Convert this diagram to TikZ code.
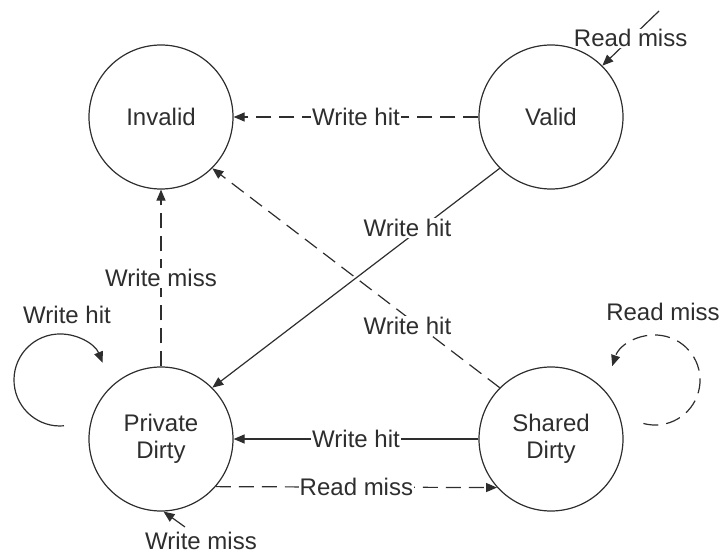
\documentclass[tikz,border=0pt]{standalone}
\usepackage{fontspec}
\setmainfont{Liberation Sans}
\usetikzlibrary{arrows.meta}
\definecolor{ink}{HTML}{2E2E2E}
\begin{document}
\begin{tikzpicture}[x=1pt,y=1pt,
  labelfont/.style={text=ink,font=\fontsize{24}{27}\selectfont},
  state/.style={circle,draw=ink,line width=1.2pt,minimum size=144pt,inner sep=0pt,align=center,labelfont},
  lbl/.style={fill=white,inner sep=1pt,labelfont},
  txt/.style={inner sep=1pt,labelfont},
  conn/.style={draw=ink,line width=1.2pt,-{Triangle[length=11pt,width=9pt]}},
  dashconn/.style={conn,dash pattern=on 15pt off 8pt}]
  \useasboundingbox (0,0) rectangle (722,-556);

  % states
  \node[state] (inv) at (161,-117) {Invalid};
  \node[state] (val) at (551,-117) {Valid};
  \node[state] (pd)  at (161,-439) {Private\\Dirty};
  \node[state] (sd)  at (551,-439) {Shared\\Dirty};

  % transitions between states
  \draw[dashconn] (val) -- node[lbl] {Write hit} (inv);
  \draw[conn] (val.225) -- node[lbl,pos=0.3,xshift=-6pt,yshift=6pt] {Write hit} (pd.45);
  \draw[dashconn] (sd.135) -- node[lbl,pos=0.3,xshift=-6pt,yshift=-4pt] {Write hit} (inv.-45);
  \draw[dashconn] (pd) -- node[lbl] {Write miss} (inv);
  \draw[conn] (sd) -- node[lbl] {Write hit} (pd);
  \draw[dashconn] (pd.-41.8) -- node[lbl] {Read miss} (sd.-138.2);

  % external entries
  \coordinate (rmsrc) at (659,-11);
  \draw[conn] (rmsrc) -- node[lbl] {Read miss} (val.45);
  \coordinate (wmsrc) at (185,-527);
  \node[txt] (wmlbl) at (201,-541) {Write miss};
  \draw[conn] (wmsrc) -- (pd.-88);

  % self loops
  \coordinate (pdloop) at (64,-425.8);
  \draw[conn] (pdloop) arc[start angle=-85,end angle=-338,radius=46];
  \node[txt] (pdlooplbl) at (67,-315) {Write hit};
  \coordinate (sdloop) at (643.4,-423.5);
  \draw[dashconn] (sdloop) arc[start angle=-105,end angle=162,radius=45];
  \node[txt] (sdlooplbl) at (663,-312) {Read miss};
\end{tikzpicture}
\end{document}
